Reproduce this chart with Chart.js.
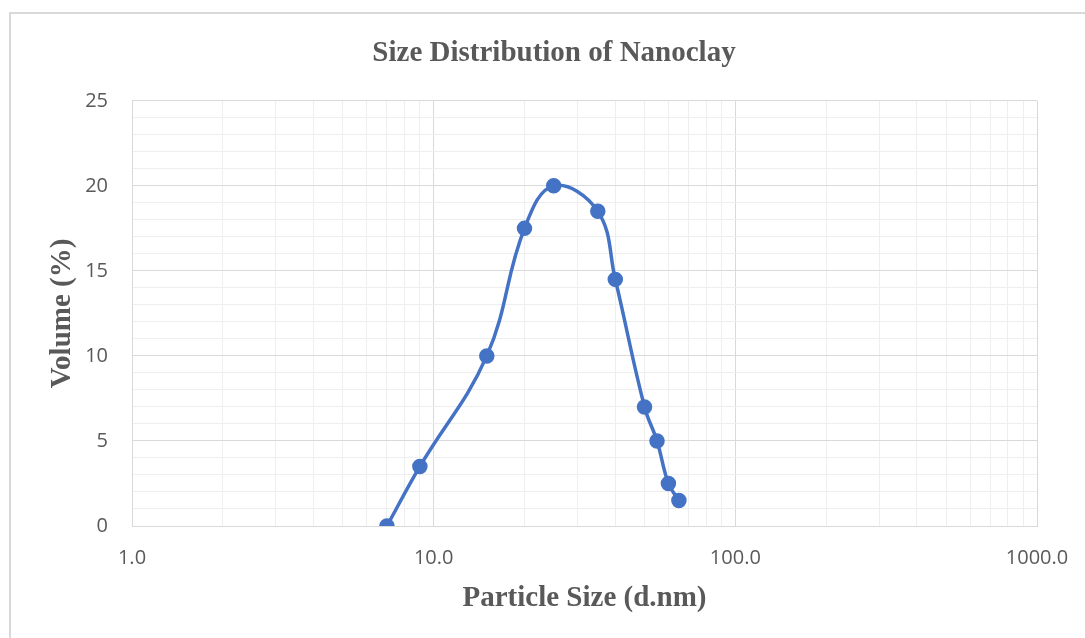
<!DOCTYPE html>
<html>
<head>
<meta charset="utf-8">
<script src="https://cdn.jsdelivr.net/npm/chart.js@4/dist/chart.umd.min.js"></script>
<style>
  html, body { margin: 0; padding: 0; background: #fff; }
  #wrap { width: 1085px; height: 638px; position: relative; }
</style>
</head>
<body>
<div id="wrap"><canvas id="chart" width="1085" height="638"></canvas></div>
<script>
// data
const sizes = [7, 9, 15, 20, 25, 35, 40, 50, 55, 60, 65];
const volumes = [0, 3.5, 10, 17.5, 20, 18.5, 14.5, 7, 5, 2.5, 1.5];
const x_labels = [1, 10, 100, 1000];
const y_labels = [0, 5, 10, 15, 20, 25];

const tick_font = { family: 'Open Sans', size: 20 };
const title_font = { family: 'Liberation Serif', size: 29, weight: 'bold' };
const grey_text = '#595959';

// light frame round the chart, like the office chart border
const frame = {
    id: 'frame',
    beforeDraw(chart) {
        let ctx = chart.ctx;
        ctx.save();
        ctx.strokeStyle = '#d9d9d9';
        ctx.lineWidth = 2;
        ctx.beginPath();
        ctx.moveTo(10, 638);
        ctx.lineTo(10, 13);
        ctx.lineTo(1085, 13);
        ctx.stroke();
        ctx.restore();
    }
};

function is_decade(v)
{
    let l = Math.log10(v);
    return Math.abs(l - Math.round(l)) < 1e-9;
}

let points = sizes.map((s, i) => ({ x: s, y: volumes[i] }));

new Chart(document.getElementById('chart').getContext('2d'), {
    type: 'line',
    data: {
        datasets: [{
            data: points,
            borderColor: '#4472c4',
            backgroundColor: '#4472c4',
            borderWidth: 3.5,
            pointRadius: 6,
            pointHoverRadius: 6,
            tension: 0.4,
            fill: false
        }]
    },
    plugins: [frame],
    options: {
        responsive: false,
        animation: false,
        // left padding is wide so the chart title sits where the original has it
        layout: { padding: { left: 71, right: 48, top: 0, bottom: 0 } },
        plugins: {
            legend: { display: false },
            tooltip: { enabled: false },
            title: {
                display: true,
                text: 'Size Distribution of Nanoclay',
                color: grey_text,
                font: title_font,
                padding: { top: 36, bottom: 30 }
            }
        },
        scales: {
            x: {
                type: 'logarithmic',
                min: 1,
                max: 1000,
                afterFit: (scale) => {
                    scale.height = 112;
                    scale.paddingLeft = 0;
                    scale.paddingRight = 0;
                },
                border: { color: '#d9d9d9', width: 1 },
                grid: {
                    drawTicks: false,
                    color: (c) => (c.tick && is_decade(c.tick.value)) ? '#d9d9d9' : '#eeeeee',
                    lineWidth: 1
                },
                ticks: {
                    autoSkip: false,
                    maxRotation: 0,
                    padding: 20,
                    color: grey_text,
                    font: tick_font,
                    callback: function(v) {
                        return x_labels.includes(v) ? v.toFixed(1) : '';
                    }
                },
                afterBuildTicks: (scale) => {
                    let t = [];
                    for (let d = 1; d < 1000; d *= 10)
                        for (let k = 1; k < 10; k++) t.push({ value: d * k });
                    t.push({ value: 1000 });
                    scale.ticks = t;
                },
                title: {
                    display: true,
                    text: 'Particle Size (d.nm)',
                    color: grey_text,
                    font: title_font,
                    padding: { top: 4, bottom: 22 }
                }
            },
            y: {
                min: 0,
                max: 25,
                afterFit: (scale) => { scale.width = 61; },
                border: { color: '#d9d9d9', width: 1 },
                grid: {
                    drawTicks: false,
                    color: (c) => (c.tick && c.tick.value % 5 === 0) ? '#d9d9d9' : '#eeeeee',
                    lineWidth: 1
                },
                ticks: {
                    stepSize: 1,
                    autoSkip: false,
                    padding: 24,
                    color: grey_text,
                    font: tick_font,
                    callback: function(v) {
                        return y_labels.includes(v) ? v : '';
                    }
                },
                title: {
                    display: true,
                    text: 'Volume (%)',
                    color: grey_text,
                    font: title_font,
                    padding: { top: -26, bottom: 0 }
                }
            }
        }
    }
});
</script>
</body>
</html>
